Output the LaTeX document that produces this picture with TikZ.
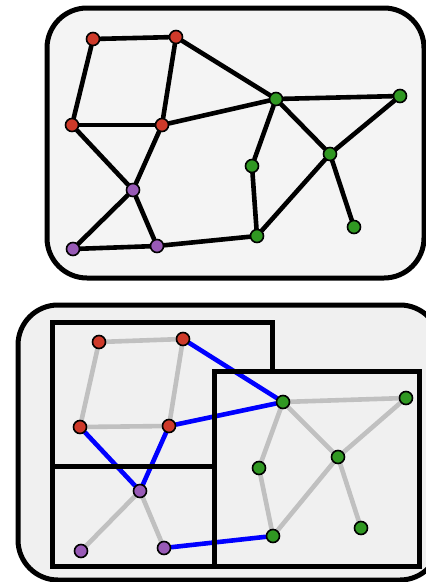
\documentclass[tikz,border=0pt]{standalone}
\usetikzlibrary{calc}
\definecolor{nodered}{RGB}{206,58,42}
\definecolor{nodegreen}{RGB}{48,152,34}
\definecolor{nodepurple}{RGB}{152,90,182}
\definecolor{panelgray}{RGB}{244,244,244}
\definecolor{boxgray}{RGB}{240,240,240}
\definecolor{edgegray}{RGB}{192,192,192}
\definecolor{cutblue}{RGB}{0,0,255}
\pgfdeclarelayer{bg}
\pgfdeclarelayer{edges}
\pgfsetlayers{bg,edges,main}

\begin{document}
\begin{tikzpicture}[
  x=1pt,
  y=-1pt,
  vertex/.style={
    circle,
    draw=black,
    line width=1.6pt,
    minimum size=13pt,
    inner sep=0pt
  },
  edge/.style={
    draw=black,
    line width=4.6pt,
    line cap=round
  },
  gray edge/.style={edge, draw=edgegray},
  cut edge/.style={edge, draw=cutblue},
  panel/.style={
    draw=black,
    line width=5pt,
    rounded corners=40pt
  },
  part box/.style={
    draw=black,
    line width=5pt,
    line join=miter
  }
]

\useasboundingbox (0,0) rectangle (426,582);
\clip (0,0) rectangle (426,582);

% Panels and part boxes.
\begin{pgfonlayer}{bg}
  \draw[panel, fill=panelgray] (47,8) rectangle (424,278);
  \draw[panel, fill=boxgray] (18,305) rectangle (440,580);
  \fill[boxgray] (52,322) rectangle (272,566);
\end{pgfonlayer}

% Top graph.
\foreach \nname/\nx/\ny/\ncol in {
  r1/93/39/nodered, r2/176/37/nodered, r3/72/125/nodered, r4/162/125/nodered,
  p1/133/190/nodepurple, p2/73/249/nodepurple, p3/157/246/nodepurple,
  g1/276/99/nodegreen, g2/400/96/nodegreen, g3/330/154/nodegreen,
  g4/252/166/nodegreen, g5/257/236/nodegreen, g6/354/227/nodegreen}{
  \node[vertex, fill=\ncol] (t-\nname) at (\nx,\ny) {};
}
\begin{pgfonlayer}{edges}
  \foreach \a/\b in {r1/r2, r1/r3, r2/r4, r2/g1, r3/r4, r4/g1, r3/p1, r4/p1,
    p1/p2, p1/p3, p2/p3, p3/g5, g1/g2, g1/g4, g1/g3, g2/g3, g3/g5, g3/g6, g4/g5}{
    \draw[edge] (t-\a) -- (t-\b);
  }
\end{pgfonlayer}

% Part boxes of the partitioned graph.
\draw[part box] (214,466) -- (52,466) -- (52,322) -- (272,322) -- (272,371);
\draw[part box] (52,466) rectangle (214,566);
\draw[part box] (214,371) rectangle (419,566);

% Bottom graph: same graph, cut edges in blue.
\foreach \nname/\nx/\ny/\ncol in {
  r1/99/342/nodered, r2/183/339/nodered, r3/80/427/nodered, r4/169/426/nodered,
  p1/140/491/nodepurple, p2/81/551/nodepurple, p3/164/548/nodepurple,
  g1/283/402/nodegreen, g2/406/398/nodegreen, g3/338/457/nodegreen,
  g4/259/468/nodegreen, g5/273/536/nodegreen, g6/361/528/nodegreen}{
  \node[vertex, fill=\ncol] (b-\nname) at (\nx,\ny) {};
}
\begin{pgfonlayer}{edges}
  \foreach \a/\b in {r1/r2, r1/r3, r2/r4, r3/r4, p1/p2, p1/p3, g1/g2, g1/g4,
    g1/g3, g2/g3, g3/g5, g3/g6, g4/g5}{
    \draw[gray edge] (b-\a) -- (b-\b);
  }
  \foreach \a/\b in {r2/g1, r4/g1, r3/p1, r4/p1, p3/g5}{
    \draw[cut edge] (b-\a) -- (b-\b);
  }
\end{pgfonlayer}

\end{tikzpicture}
\end{document}
